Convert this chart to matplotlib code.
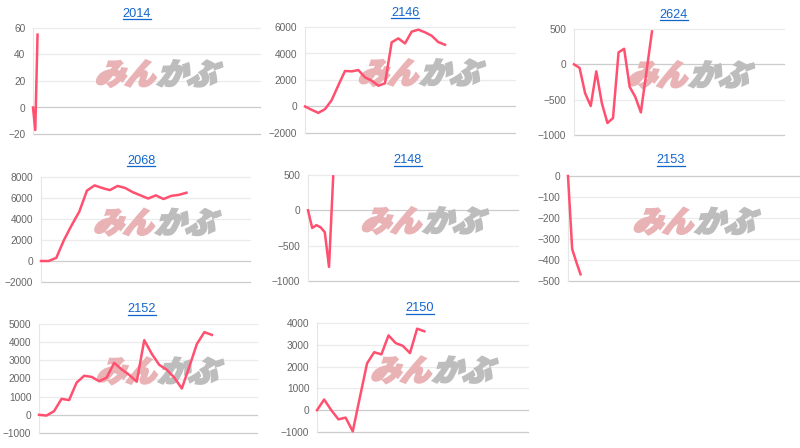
import matplotlib
matplotlib.use("Agg")
import matplotlib.pyplot as plt
from matplotlib.textpath import TextPath
from matplotlib.patches import PathPatch
from matplotlib.font_manager import FontProperties
from matplotlib.transforms import Affine2D, IdentityTransform
from matplotlib.lines import Line2D

codes = ["2014", "2146", "2624", "2068", "2148", "2153", "2152", "2150"]

s2014 = [0, -17, 55]
s2146 = [0, -250, -480, -200, 480, 1600, 2680, 2650, 2750, 2200, 1950, 1570, 1750,
         4840, 5140, 4760, 5650, 5800, 5600, 5340, 4860, 4660]
s2624 = [0, -50, -410, -590, -100, -550, -830, -760, 170, 220, -320, -460, -680, -110, 465]
s2068 = [0, 0, 300, 2000, 3400, 4700, 6700, 7200, 6950, 6750, 7150, 6950, 6550, 6250,
         5950, 6250, 5900, 6200, 6300, 6500]
s2148 = [0, -250, -210, -240, -310, -800, 480]
s2153 = [0, -348, -410, -468]
s2152 = [0, -40, 200, 880, 810, 1770, 2150, 2090, 1850, 2050, 2860, 2500, 2200, 1820,
         4110, 3360, 2750, 2480, 2050, 1450, 2650, 3900, 4550, 4400]
s2150 = [0, 490, 0, -420, -340, -970, 600, 2150, 2660, 2560, 3430, 3080, 2950, 2620, 3740, 3620]

series = [s2014, s2146, s2624, s2068, s2148, s2153, s2152, s2150]

# number of x slots each small chart spans
x_span = [100, 31.5, 37.7, 27.3, 50, 55.6, 29, 29.5]

yticks = [
    [-20, 0, 20, 40, 60],
    [-2000, 0, 2000, 4000, 6000],
    [-1000, -500, 0, 500],
    [-2000, 0, 2000, 4000, 6000, 8000],
    [-1000, -500, 0, 500],
    [-500, -400, -300, -200, -100, 0],
    [-1000, 0, 1000, 2000, 3000, 4000, 5000],
    [-1000, 0, 1000, 2000, 3000, 4000],
]

# pixel boxes (left, right, top, bottom) and title centres
boxes = [(33, 260, 28, 134), (305, 515, 27, 133), (574, 784, 29, 135),
         (41, 250, 177, 282), (308, 518, 175, 281), (568, 800, 176, 281),
         (39, 257, 324, 433), (317, 528, 323, 432)]
title_pos = [(137, 14), (405, 13), (674, 15), (141, 161), (408, 160), (671, 160),
             (142, 309), (420, 308)]

W, H = 800, 448
fig = plt.figure(figsize=(8, 4.48), dpi=100)
fig.patch.set_facecolor("white")

line_color = "#ff506f"
wm_font = FontProperties(family="Noto Sans CJK JP", weight="heavy")

axes = []
titles = []
for i, code in enumerate(codes):
    l, r, t, b = boxes[i]
    ax = fig.add_axes([l / W, 1 - b / H, (r - l) / W, (b - t) / H])
    vals = series[i]
    ax.plot(range(len(vals)), vals, color=line_color, lw=1.8, zorder=3,
            solid_joinstyle="round", clip_on=False)
    ax.set_xlim(0, x_span[i])
    ax.set_ylim(yticks[i][0], yticks[i][-1])
    ax.set_yticks(yticks[i])
    ax.set_xticks([])
    for v in yticks[i]:
        c = "#cccccc" if v == 0 or v == yticks[i][0] else "#ebebeb"
        ax.axhline(v, color=c, lw=0.9, zorder=0.5, clip_on=False)
    for s in ["top", "right", "bottom"]:
        ax.spines[s].set_visible(False)
    ax.spines["left"].set_color("#e6e6e6")
    ax.spines["left"].set_linewidth(0.8)
    ax.tick_params(axis="y", length=0, pad=5.5, labelsize=7.3, labelcolor="#666666")
    for lab in ax.get_yticklabels():
        lab.set_family("Liberation Sans")
    ax.set_facecolor("none")
    tx, ty = title_pos[i]
    titles.append(fig.text(tx / W, 1 - ty / H, code, ha="center", va="center",
                           fontsize=9.2, color="#1166cc", family="Liberation Sans"))
    axes.append(ax)

fig.canvas.draw()

# underline titles like links
for tt in titles:
    bb = tt.get_window_extent()
    fig.add_artist(Line2D([bb.x0, bb.x1], [bb.y0 + 0.5, bb.y0 + 0.5], color="#1166cc",
                          lw=0.9, transform=IdentityTransform()))

# watermark logo
for ax in axes:
    cx, cy = ax.transAxes.transform((0.54, 0.57))
    p1 = TextPath((0, 0), "みん", size=30, prop=wm_font)
    p2 = TextPath((0, 0), "かぶ", size=30, prop=wm_font)
    e1 = p1.get_extents()
    e2 = p2.get_extents()
    gap = 4
    total = e1.width + gap + e2.width
    x0 = cx - total / 2
    y0 = cy - 11
    tr1 = Affine2D().translate(-e1.x0, 0).skew_deg(20, 0).translate(x0, y0)
    tr2 = Affine2D().translate(-e2.x0, 0).skew_deg(20, 0).translate(x0 + e1.width + gap, y0)
    ax.add_patch(PathPatch(p1, transform=tr1, fc="#e9b3b6", ec="#e9b3b6", lw=1.6,
                           zorder=1, clip_on=False))
    ax.add_patch(PathPatch(p2, transform=tr2, fc="#bdbdbd", ec="#bdbdbd", lw=1.6,
                           zorder=1, clip_on=False))

fig.savefig("out.png", dpi=100, facecolor="white")
